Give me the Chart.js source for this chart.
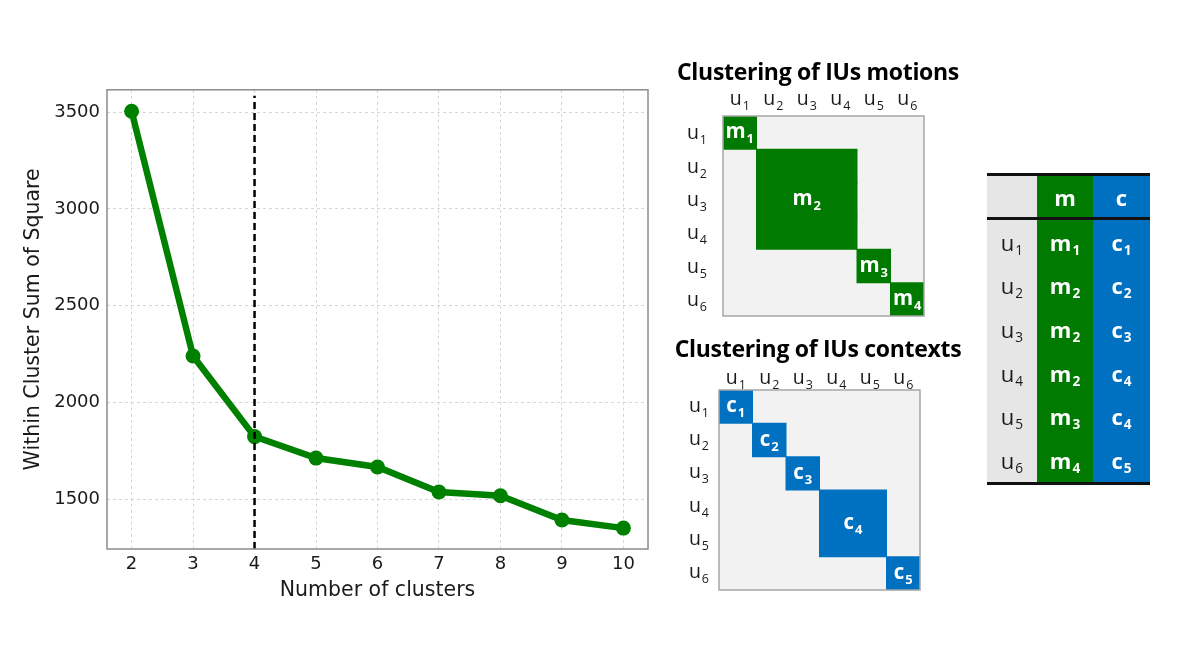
<!DOCTYPE html>
<html><head><meta charset="utf-8">
<script src="https://cdn.jsdelivr.net/npm/chart.js@4.4.0/dist/chart.umd.min.js"></script>
<style>
html,body{margin:0;padding:0;background:#fff}
body{width:1196px;height:653px;overflow:hidden;position:relative;font-family:'Open Sans',sans-serif}
canvas{position:absolute}
.mtitle{position:absolute;width:400px;text-align:center;font-weight:bold;font-size:23px;color:#000;line-height:30px;font-family:'Open Sans',sans-serif;letter-spacing:-0.3px}
#tbl{position:absolute;left:987px;top:173px;width:163px;border-top:3px solid #111;border-bottom:3px solid #111}
#tbl .row{display:flex;height:43.6px}
#tbl .head{height:41px;border-bottom:3px solid #111}
#tbl .cell{display:flex;align-items:center;justify-content:center;font-size:22px}
#tbl .cell span{display:inline-block;line-height:1}
#tbl .c0{width:50px;background:#e6e6e6;color:#1a1a1a}
#tbl .c1{width:56px;background:#007a00;color:#fff;font-weight:bold}
#tbl .c2{width:57px;background:#0070c0;color:#fff;font-weight:bold}
#tbl sub{font-size:0.62em;vertical-align:-0.3em;line-height:0;margin-left:1px}
</style></head><body>
<canvas id="elbow" width="660" height="548" style="left:0;top:72px"></canvas>
<div class="mtitle" style="left:618px;top:56px">Clustering of IUs motions</div>
<canvas id="mot" width="300" height="250" style="left:660px;top:80px"></canvas>
<div class="mtitle" style="left:618px;top:333px">Clustering of IUs contexts</div>
<canvas id="ctx" width="300" height="250" style="left:656px;top:354px"></canvas>
<div id="tbl"></div>
<script>
// ---- data ----
const clusterCounts = [2, 3, 4, 5, 6, 7, 8, 9, 10];
const wcss = [3505, 2240, 1823, 1712, 1666, 1537, 1517, 1392, 1350];
const xTicks = [2, 3, 4, 5, 6, 7, 8, 9, 10];
const yTicks = [1500, 2000, 2500, 3000, 3500];
const elbowK = 4;
const elbowSpan = [1242, 3585];
const unitIdx = ['1', '2', '3', '4', '5', '6'];
const motionCluster = [1, 2, 2, 2, 3, 4];
const contextCluster = [1, 2, 3, 4, 4, 5];

const GREEN_LINE = '#008000', GREEN = '#007a00', BLUE = '#0070c0';
const AX_FONT = 'DejaVu Sans';

// ---- elbow chart ----
const framePlugin = {
  id: 'frame',
  afterDraw(chart) {
    const a = chart.chartArea, c = chart.ctx;
    c.save(); c.strokeStyle = '#8c8c8c'; c.lineWidth = 1.5;
    c.strokeRect(a.left, a.top, a.right - a.left, a.bottom - a.top);
    c.restore();
  }
};
new Chart(document.getElementById('elbow'), {
  type: 'line',
  data: { datasets: [
    { data: [{x: elbowK, y: elbowSpan[0]}, {x: elbowK, y: elbowSpan[1]}], borderColor: '#000', borderWidth: 2.5,
      borderDash: [7, 4], pointRadius: 0, order: 0, fill: false },
    { data: clusterCounts.map((k, i) => ({x: k, y: wcss[i]})), borderColor: GREEN_LINE, backgroundColor: GREEN_LINE,
      borderWidth: 6.5, pointRadius: 7.5, pointBackgroundColor: GREEN_LINE, pointBorderWidth: 0, order: 1, fill: false }
  ]},
  options: {
    responsive: false, animation: false, events: [],
    layout: { padding: { top: 10, right: 12, left: 0, bottom: 0 } },
    plugins: { legend: { display: false }, tooltip: { enabled: false } },
    scales: {
      x: { type: 'linear', min: 1.6, max: 10.4,
        afterBuildTicks: s => { s.ticks = xTicks.map(v => ({ value: v })); },
        afterFit: s => { s.height = 71; },
        grid: { color: '#cccccc', lineWidth: 0.8, drawTicks: false },
        border: { display: false, dash: [3, 3] },
        ticks: { font: { family: AX_FONT, size: 18 }, color: '#1a1a1a', padding: 5, maxRotation: 0, callback: v => String(v) },
        title: { display: true, text: 'Number of clusters', font: { family: AX_FONT, size: 20.5 }, color: '#1a1a1a', padding: { top: 0, bottom: 17 } } },
      y: { type: 'linear', min: 1242, max: 3616,
        afterBuildTicks: s => { s.ticks = yTicks.map(v => ({ value: v })); },
        afterFit: s => { s.width = 107; },
        grid: { color: '#cccccc', lineWidth: 0.8, drawTicks: false },
        border: { display: false, dash: [3, 3] },
        ticks: { font: { family: AX_FONT, size: 18 }, color: '#1a1a1a', padding: 7, callback: v => String(v) },
        title: { display: true, text: 'Within Cluster Sum of Square', font: { family: AX_FONT, size: 20.5 }, color: '#1a1a1a', padding: { top: 21, bottom: 0 } } }
    }
  },
  plugins: [framePlugin]
});

// ---- matrices ----
function drawSub(c, base, sub, x, y, baseFont, subFont, align, drop) {
  c.font = baseFont; const wb = c.measureText(base).width;
  c.font = subFont; const ws = c.measureText(sub).width;
  const tot = wb + ws + 1;
  let sx = align === 'center' ? x - tot / 2 : (align === 'right' ? x - tot : x);
  c.textAlign = 'left'; c.textBaseline = 'alphabetic';
  c.font = baseFont; c.fillText(base, sx, y);
  c.font = subFont; c.fillText(sub, sx + wb + 1, y + drop);
}

function matrixChart(id, assign, color, letter, colGap, rowGap, rowDrop) {
  const blocks = [];
  assign.forEach((cl, i) => {
    let b = blocks.find(b => b.id === cl);
    if (!b) blocks.push({ id: cl, start: i, end: i + 1 }); else b.end = i + 1;
  });
  const rowData = assign.map(cl => { const b = blocks.find(b => b.id === cl); return [b.start, b.end]; });
  const plug = {
    id: 'matrix' + id,
    beforeDatasetsDraw(chart) {
      const a = chart.chartArea, c = chart.ctx;
      c.save(); c.fillStyle = '#f2f2f2'; c.fillRect(a.left, a.top, a.right - a.left, a.bottom - a.top); c.restore();
    },
    afterDatasetsDraw(chart) {
      const a = chart.chartArea, c = chart.ctx, xs = chart.scales.x, ys = chart.scales.y;
      c.save();
      c.strokeStyle = '#a6a6a6'; c.lineWidth = 1.5;
      c.strokeRect(a.left, a.top, a.right - a.left, a.bottom - a.top);
      c.fillStyle = '#fff';
      blocks.forEach(b => {
        const cx = xs.getPixelForValue((b.start + b.end) / 2);
        const cy = (ys.getPixelForValue(b.start) + ys.getPixelForValue(b.end - 1)) / 2;
        drawSub(c, letter, String(b.id), cx, cy + 5.5, 'bold 20.5px "Open Sans"', 'bold 13px "Open Sans"', 'center', 5);
      });
      c.fillStyle = '#1a1a1a';
      unitIdx.forEach((u, i) => {
        drawSub(c, 'u', u, xs.getPixelForValue(i + 0.5), a.top - colGap, '19.5px "Open Sans"', '12.5px "Open Sans"', 'center', 5);
        drawSub(c, 'u', u, a.left - rowGap, ys.getPixelForValue(i) + rowDrop, '19.5px "Open Sans"', '12.5px "Open Sans"', 'right', 5);
      });
      c.restore();
    }
  };
  new Chart(document.getElementById(id), {
    type: 'bar',
    data: { labels: unitIdx.map(u => 'u' + u), datasets: [{ data: rowData, backgroundColor: color, borderWidth: 0,
      barPercentage: 1, categoryPercentage: 1, inflateAmount: 0.5 }] },
    options: {
      indexAxis: 'y', responsive: false, animation: false, events: [],
      layout: { padding: { left: 63, top: 36, right: 36, bottom: 14 } },
      plugins: { legend: { display: false }, tooltip: { enabled: false } },
      scales: { x: { type: 'linear', min: 0, max: 6, display: false }, y: { type: 'category', display: false } }
    },
    plugins: [plug]
  });
}
matrixChart('mot', motionCluster, GREEN, 'm', 11, 16, 6.5);
matrixChart('ctx', contextCluster, BLUE, 'c', 6, 10, 5);

// ---- table ----
const tbl = document.getElementById('tbl');
let html = '<div class="row head"><div class="cell c0"></div><div class="cell c1"><span>m</span></div><div class="cell c2"><span>c</span></div></div>';
unitIdx.forEach((u, i) => {
  html += '<div class="row"><div class="cell c0"><span>u<sub>' + u + '</sub></span></div><div class="cell c1"><span>m<sub>' + motionCluster[i] +
    '</sub></span></div><div class="cell c2"><span>c<sub>' + contextCluster[i] + '</sub></span></div></div>';
});
tbl.innerHTML = html;
</script>
</body></html>
